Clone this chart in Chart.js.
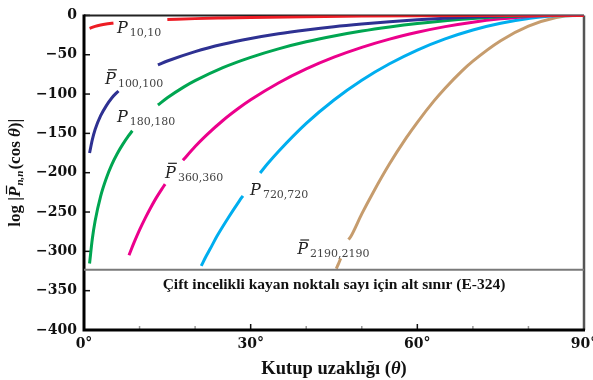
<!DOCTYPE html>
<html>
<head>
<meta charset="utf-8">
<style>
  html, body { margin: 0; padding: 0; background: #fff; }
</style>
<script src="https://cdn.jsdelivr.net/npm/chart.js@4.4.1/dist/chart.umd.min.js"></script>
</head>
<body>
<canvas id="chart" width="593" height="380"></canvas>
<script>
'use strict';

// tick labels
const angleTicks = [0, 30, 60, 90];
const minorAngleTicks = [10, 20, 40, 50, 70, 80];
const logTicks = [0, -50, -100, -150, -200, -250, -300, -350, -400];

// double precision underflow (E-324)
const underflowLog = -323.3;

// [polar distance in degrees, log10 value]; null = hidden behind the label
const p10 = [[1, -16.5], [2, -14], [3, -12.3], [4, -11], [5, -10], [5.3, -9.7], [10, null],
  [15, -5.2], [20, -4.1], [25, -3.3], [30, -2.6], [40, -1.6], [50, -0.9], [60, -0.4],
  [70, -0.1], [80, 0], [90, 0]];
const p100 = [[1, -175], [1.5, -158], [2, -145], [3, -127.5], [4, -115], [5, -105], [6.2, -96],
  [10, null], [13.3, -63], [15, -58], [20, -46], [25, -36.7], [30, -29.4], [35, -23.4],
  [40, -18.5], [45, -14.3], [50, -10.9], [55, -8], [60, -5.5], [65, -3.6], [70, -2],
  [75, -0.8], [80, 0], [90, 0]];
const p180 = [[1, -315.5], [1.5, -284], [2, -261.4], [3, -229.7], [4, -207.3], [5, -189.8],
  [6, -175.6], [7, -163.7], [8, -153.2], [8.7, -146.7], [11, null], [13.3, -114], [15, -104.8],
  [18, -90.9], [20, -83], [25, -66.4], [30, -53.3], [35, -42.5], [40, -33.6], [45, -26.2],
  [50, -19.9], [55, -14.7], [60, -10.3], [65, -6.8], [70, -4], [75, -1.8], [80, -0.3],
  [85, 0], [90, 0]];
const p360 = [[8.1, -305], [9, -289], [10, -272.7], [11, -258], [12, -244.5], [13, -232],
  [14, -220.8], [14.6, -214.5], [16, null], [17.8, -184.3], [20, -166.7], [22, -152.5],
  [25, -133.6], [28, -117.2], [30, -107.3], [35, -85.9], [40, -68], [45, -53.1], [50, -40.6],
  [55, -30.1], [60, -21.5], [65, -14.3], [70, -8.7], [75, -4.4], [80, -1.3], [85, 0], [90, 0]];
const p720 = [[21.1, -318.5], [22, -306], [23, -293], [24, -280], [26, -257], [28, -235.5],
  [28.6, -229.4], [30, null], [31.7, -200.3], [33, -189], [35, -173], [40, -137.3],
  [45, -107.5], [50, -82.4], [55, -61.5], [60, -44.1], [65, -29.9], [70, -18.5], [75, -10],
  [80, -3.9], [85, -0.3], [90, 0]];
const p2190 = [[45.4, -322], [45.8, -316], [46.2, -309], [47, null], [47.6, -285],
  [48, -281.5], [50, -252.4], [52, -225.7], [55, -188.7], [58, -155.8], [60, -135.9],
  [63, -108.7], [65, -92.5], [68, -70.8], [70, -58.1], [75, -32.1], [80, -13.6],
  [85, -2.6], [88, 0], [90, 0]];

const series = [
  { name: '10,10', bar: false, data: p10, color: '#ed1c24', label: [5.95, -22.5] },
  { name: '100,100', bar: true, data: p100, color: '#2e3192', label: [3.8, -87.6] },
  { name: '180,180', bar: false, data: p180, color: '#00a651', label: [5.95, -135] },
  { name: '360,360', bar: true, data: p360, color: '#ec008c', label: [14.6, -206.5] },
  { name: '720,720', bar: false, data: p720, color: '#00aeef', label: [29.9, -227.8] },
  { name: '2190,2190', bar: true, data: p2190, color: '#c69c6d', label: [38.4, -304] }
];

const SERIF = '"Liberation Serif", "DejaVu Serif", serif';
const DV = '"DejaVu Serif", serif';

function partsWidth(ctx, parts) {
  let w = 0;
  parts.forEach(p => {
    ctx.font = p.font;
    w += (p.pre || 0) + ctx.measureText(p.text).width;
  });
  return w;
}

function drawParts(ctx, parts, x, y) {
  let cx = x;
  parts.forEach(p => {
    cx += p.pre || 0;
    ctx.font = p.font;
    ctx.fillStyle = p.color || '#222';
    ctx.fillText(p.text, cx, y + (p.dy || 0));
    const w = ctx.measureText(p.text).width;
    if (p.bar) {
      ctx.strokeStyle = p.color || '#222';
      ctx.lineWidth = 1.2;
      ctx.beginPath();
      ctx.moveTo(cx + 3, y - p.bar);
      ctx.lineTo(cx + w + 1, y - p.bar);
      ctx.stroke();
    }
    cx += w;
  });
}

const decorPlugin = {
  id: 'decor',
  beforeDatasetsDraw(chart) {
    const { ctx, chartArea: a, scales: { x, y } } = chart;
    ctx.save();
    // ticks pointing inward
    ctx.strokeStyle = '#111';
    ctx.lineWidth = 1.5;
    logTicks.forEach(v => {
      const py = y.getPixelForValue(v);
      ctx.beginPath();
      ctx.moveTo(a.left, py);
      ctx.lineTo(a.left + 6, py);
      ctx.stroke();
    });
    angleTicks.forEach(v => {
      const px = x.getPixelForValue(v);
      ctx.beginPath();
      ctx.moveTo(px, a.bottom);
      ctx.lineTo(px, a.bottom - 6);
      ctx.stroke();
    });
    ctx.strokeStyle = '#999';
    minorAngleTicks.forEach(v => {
      const px = x.getPixelForValue(v);
      ctx.beginPath();
      ctx.moveTo(px, a.bottom);
      ctx.lineTo(px, a.bottom - 4);
      ctx.stroke();
    });
    // frame
    ctx.strokeStyle = '#555';
    ctx.lineWidth = 2.5;
    ctx.beginPath();
    ctx.moveTo(a.right, a.top);
    ctx.lineTo(a.right, a.bottom);
    ctx.stroke();
    ctx.strokeStyle = '#222';
    ctx.lineWidth = 2;
    ctx.beginPath();
    ctx.moveTo(a.left, a.top);
    ctx.lineTo(a.right, a.top);
    ctx.stroke();
    ctx.strokeStyle = '#000';
    ctx.lineWidth = 3;
    ctx.beginPath();
    ctx.moveTo(a.left, a.top - 1);
    ctx.lineTo(a.left, a.bottom);
    ctx.lineTo(a.right + 1, a.bottom);
    ctx.stroke();
    ctx.restore();
  },
  afterDatasetsDraw(chart) {
    const { ctx, chartArea: a, scales: { x, y } } = chart;
    ctx.save();
    ctx.textBaseline = 'alphabetic';
    ctx.textAlign = 'left';

    // curve labels
    series.forEach(s => {
      const px = x.getPixelForValue(s.label[0]);
      const py = y.getPixelForValue(s.label[1]);
      drawParts(ctx, [
        { text: 'P', font: 'italic 16px ' + DV, bar: s.bar ? 14.5 : 0, color: '#222' },
        { text: s.name, font: '11px ' + DV, dy: 3, pre: 2, color: '#444' }
      ], px, py);
    });

    // underflow note
    const note = [{ text: 'Çift incelikli kayan noktalı sayı için alt sınır (E-324)', font: 'bold 15.5px ' + SERIF, color: '#111' }];
    const cx = (a.left + a.right) / 2;
    drawParts(ctx, note, cx - partsWidth(ctx, note) / 2, y.getPixelForValue(underflowLog) + 19);

    // x title
    const xt = [
      { text: 'Kutup uzaklığı (', font: 'bold 18.5px ' + SERIF, color: '#111' },
      { text: 'θ', font: 'italic bold 18.5px ' + SERIF, color: '#111' },
      { text: ')', font: 'bold 18.5px ' + SERIF, color: '#111' }
    ];
    drawParts(ctx, xt, cx - partsWidth(ctx, xt) / 2, 374);

    // y title
    const yt = [
      { text: 'log |', font: 'bold 17px ' + SERIF, color: '#111' },
      { text: 'P', font: 'italic bold 17px ' + SERIF, bar: 13.5, color: '#111' },
      { text: 'n,n', font: 'italic bold 11px ' + SERIF, dy: 3, pre: 1, color: '#111' },
      { text: '(cos ', font: 'bold 17px ' + SERIF, pre: 1, color: '#111' },
      { text: 'θ', font: 'italic bold 17px ' + SERIF, color: '#111' },
      { text: ')|', font: 'bold 17px ' + SERIF, color: '#111' }
    ];
    ctx.translate(20, (a.top + a.bottom) / 2);
    ctx.rotate(-Math.PI / 2);
    drawParts(ctx, yt, -partsWidth(ctx, yt) / 2, 0);
    ctx.restore();
  }
};

const datasets = [{
  data: [{ x: 0, y: underflowLog }, { x: 90, y: underflowLog }],
  borderColor: '#7a7a7a',
  borderWidth: 2,
  pointRadius: 0
}];
series.forEach(s => {
  datasets.push({
    data: s.data.map(d => ({ x: d[0], y: d[1] })),
    borderColor: s.color,
    borderWidth: 3,
    pointRadius: 0,
    spanGaps: false,
    cubicInterpolationMode: 'monotone'
  });
});

new Chart(document.getElementById('chart'), {
  type: 'line',
  data: { datasets: datasets },
  options: {
    responsive: false,
    animation: false,
    events: [],
    layout: { padding: { top: 10, right: 9, bottom: 0, left: 0 } },
    plugins: { legend: { display: false }, tooltip: { enabled: false } },
    scales: {
      x: {
        type: 'linear',
        min: 0,
        max: 90,
        afterFit(s) { s.height = 50; s.paddingLeft = 0; s.paddingRight = 0; },
        afterBuildTicks(s) { s.ticks = angleTicks.map(v => ({ value: v })); },
        grid: { display: false, drawTicks: false },
        border: { display: false },
        ticks: {
          padding: 6,
          color: '#111',
          font: { family: DV, size: 14, weight: 'bold' },
          callback: v => v + '°'
        }
      },
      y: {
        type: 'linear',
        min: -400,
        max: 0,
        afterFit(s) { s.width = 84; },
        afterBuildTicks(s) { s.ticks = logTicks.map(v => ({ value: v })); },
        grid: { display: false, drawTicks: false },
        border: { display: false },
        ticks: {
          padding: 7,
          color: '#111',
          font: { family: DV, size: 14, weight: 'bold' },
          callback: v => (v === 0 ? '0' : '−' + Math.abs(v))
        }
      }
    }
  },
  plugins: [decorPlugin]
});
</script>
</body>
</html>
